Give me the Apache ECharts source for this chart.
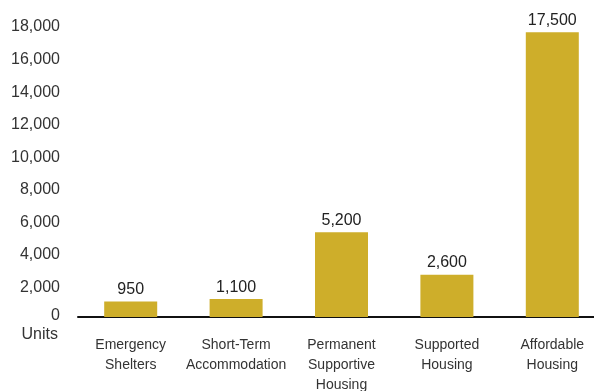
<!DOCTYPE html>
<html>
<head>
<meta charset="utf-8">
<script src="https://cdn.jsdelivr.net/npm/echarts@6/dist/echarts.min.js"></script>
<style>
  html, body { margin: 0; padding: 0; background: #ffffff; }
  #chart { width: 594px; height: 391px; }
</style>
</head>
<body>
<div id="chart"></div>
<script>
// Housing units by category
const categories = [
  'Emergency\nShelters',
  'Short-Term\nAccommodation',
  'Permanent\nSupportive\nHousing',
  'Supported\nHousing',
  'Affordable\nHousing'
];
const units = [950, 1100, 5200, 2600, 17500];
const yMax = 18000;
const yStep = 2000;

const FONT = '"Liberation Sans", Arial, sans-serif';
const BAR_COLOR = '#CEAE2A';

const chart = echarts.init(document.getElementById('chart'), null, { renderer: 'canvas' });

chart.setOption({
  animation: false,
  backgroundColor: '#ffffff',
  grid: {
    left: 78, right: -11, top: 24, bottom: 74,
    containLabel: false,
    outerBoundsMode: 'none'
  },
  xAxis: {
    type: 'category',
    data: categories,
    axisLine: { show: true, lineStyle: { color: '#111111', width: 2 } },
    axisTick: { show: false },
    axisLabel: {
      interval: 0,
      margin: 18,
      fontFamily: FONT,
      fontSize: 14,
      lineHeight: 20,
      color: '#333333'
    }
  },
  yAxis: {
    type: 'value',
    min: 0,
    max: yMax,
    interval: yStep,
    name: 'Units',
    nameLocation: 'start',
    nameGap: 10,
    nameTextStyle: {
      fontFamily: FONT,
      fontSize: 16,
      color: '#333333',
      align: 'right',
      verticalAlign: 'top',
      padding: [0, 20, 0, 0]
    },
    axisLine: { show: false },
    axisTick: { show: false },
    splitLine: { show: false },
    axisLabel: {
      margin: 18,
      fontFamily: FONT,
      fontSize: 16,
      color: '#333333',
      padding: [6, 0, 0, 0],
      formatter: function (v) {
        if (v === 0) return '{z|0}';
        return v.toLocaleString('en-US');
      },
      rich: {
        z: { fontFamily: FONT, fontSize: 16, color: '#333333', padding: [0, 0, 8, 0] }
      }
    }
  },
  series: [{
    type: 'bar',
    data: units,
    barWidth: 53,
    itemStyle: { color: BAR_COLOR },
    label: {
      show: true,
      position: 'top',
      distance: 4,
      fontFamily: FONT,
      fontSize: 16,
      color: '#222222',
      formatter: function (p) { return p.value.toLocaleString('en-US'); }
    }
  }]
});
</script>
</body>
</html>
